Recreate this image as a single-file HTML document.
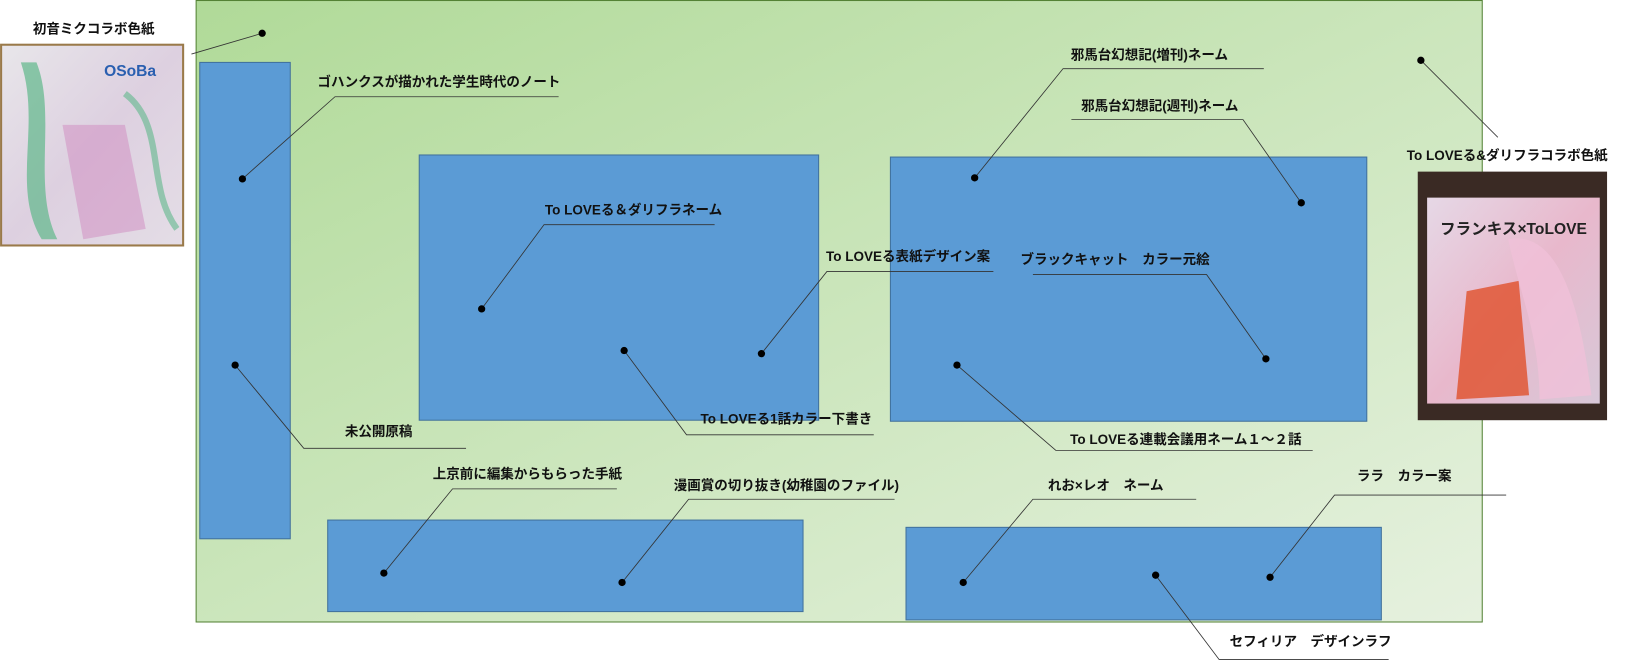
<!DOCTYPE html>
<html><head><meta charset="utf-8"><style>
html,body{margin:0;padding:0;background:#fff;width:1630px;height:661px;overflow:hidden}
svg{display:block}
text{font-family:"Liberation Sans","Noto Sans CJK JP",sans-serif;font-weight:bold;font-size:13px;fill:#111;text-anchor:middle}
</style></head><body>
<svg width="1630" height="661" viewBox="0 0 1567 635.5" xmlns="http://www.w3.org/2000/svg">
<defs>
<linearGradient id="g" x1="0" y1="0" x2="1" y2="1">
<stop offset="0" stop-color="#b0da98"/><stop offset="1" stop-color="#e6f1df"/>
</linearGradient>
<linearGradient id="p1" x1="0" y1="0" x2="1" y2="1">
<stop offset="0" stop-color="#e8e6ea"/><stop offset="0.5" stop-color="#ddd0e0"/><stop offset="1" stop-color="#e4dde6"/>
</linearGradient>
<linearGradient id="p2" x1="0" y1="0" x2="1" y2="1">
<stop offset="0" stop-color="#e6d8e6"/><stop offset="0.5" stop-color="#e8b8cc"/><stop offset="1" stop-color="#d8c8d8"/>
</linearGradient>
</defs>
<rect x="188.5" y="0.5" width="1236.5" height="597.5" fill="url(#g)" stroke="#548235" stroke-width="1"/>
<g fill="#5b9bd5" stroke="#41719c" stroke-width="1">
<rect x="192" y="60" width="87" height="458"/>
<rect x="403" y="149" width="384" height="255"/>
<rect x="856" y="151" width="458" height="254"/>
<rect x="315" y="500" width="457" height="88"/>
<rect x="871" y="507" width="457" height="89"/>
</g>
<!-- left photo -->
<rect x="0" y="42" width="177" height="195" fill="#9a7a4a"/>
<rect x="2" y="44" width="173" height="191" fill="url(#p1)"/>
<path d="M20 60 C40 120 10 180 40 230 L55 230 C30 180 55 110 35 60Z" fill="#5fb88a" opacity="0.7"/>
<path d="M120 90 C160 120 140 180 170 220" stroke="#5fb88a" stroke-width="6" fill="none" opacity="0.6"/>
<path d="M60 120 L120 120 L140 220 L80 230Z" fill="#d08ac0" opacity="0.5"/>
<text x="125" y="73" style="font-size:15px;fill:#2a5fb0">OSoBa</text>
<!-- right photo -->
<rect x="1363" y="165" width="182" height="239" fill="#3a2a24"/>
<rect x="1372" y="190" width="166" height="198" fill="url(#p2)"/>
<path d="M1410 280 L1460 270 L1470 380 L1400 384Z" fill="#e0502a" opacity="0.8"/>
<path d="M1450 230 C1500 220 1520 300 1530 380 L1480 384 C1480 320 1460 280 1450 230Z" fill="#f0c0d8" opacity="0.8"/>
<text x="1455" y="225" style="font-size:15px;fill:#222">フランキス×ToLOVE</text>
<!-- leaders -->
<g stroke="#333" stroke-width="0.8" fill="none">
<path d="M184 52 L252 32"/>
<path d="M537 93 L322 93 L233 172"/>
<path d="M687 216 L523 216 L463 297"/>
<path d="M955 261 L795 261 L732 340"/>
<path d="M600 337 L660 418 L840 418"/>
<path d="M226 351 L292 431 L448 431"/>
<path d="M1215 66 L1022 66 L937 171"/>
<path d="M1030 115 L1195 115 L1251 195"/>
<path d="M993 264 L1160 264 L1217 345"/>
<path d="M920 351 L1015 433 L1262 433"/>
<path d="M593 470 L435 470 L369 551"/>
<path d="M860 480 L662 480 L598 560"/>
<path d="M1150 480 L993 480 L926 560"/>
<path d="M1448 476 L1283 476 L1221 555"/>
<path d="M1111 553 L1172 634 L1335 634"/>
<path d="M1366 58 L1440 132"/>
</g>
<g fill="#000">
<circle cx="252" cy="32" r="3.5"/><circle cx="233" cy="172" r="3.5"/><circle cx="463" cy="297" r="3.5"/>
<circle cx="732" cy="340" r="3.5"/><circle cx="600" cy="337" r="3.5"/><circle cx="226" cy="351" r="3.5"/>
<circle cx="937" cy="171" r="3.5"/><circle cx="1251" cy="195" r="3.5"/><circle cx="1217" cy="345" r="3.5"/>
<circle cx="920" cy="351" r="3.5"/><circle cx="369" cy="551" r="3.5"/><circle cx="598" cy="560" r="3.5"/>
<circle cx="926" cy="560" r="3.5"/><circle cx="1221" cy="555" r="3.5"/><circle cx="1111" cy="553" r="3.5"/>
<circle cx="1366" cy="58" r="3.5"/>
</g>
<text x="90" y="32">初音ミクコラボ色紙</text>
<text x="422" y="83">ゴハンクスが描かれた学生時代のノート</text>
<text x="609" y="206">To LOVEる＆ダリフラネーム</text>
<text x="873" y="251">To LOVEる表紙デザイン案</text>
<text x="756" y="407">To LOVEる1話カラー下書き</text>
<text x="364" y="419">未公開原稿</text>
<text x="1105" y="57">邪馬台幻想記(増刊)ネーム</text>
<text x="1115" y="106">邪馬台幻想記(週刊)ネーム</text>
<text x="1072" y="254">ブラックキャット　カラー元絵</text>
<text x="1140" y="427">To LOVEる連載会議用ネーム１～２話</text>
<text x="507" y="460">上京前に編集からもらった手紙</text>
<text x="756" y="471">漫画賞の切り抜き(幼稚園のファイル)</text>
<text x="1063" y="471">れお×レオ　ネーム</text>
<text x="1350" y="462">ララ　カラー案</text>
<text x="1260" y="621">セフィリア　デザインラフ</text>
<text x="1449" y="154">To LOVEる&amp;ダリフラコラボ色紙</text>
</svg>
</body></html>
